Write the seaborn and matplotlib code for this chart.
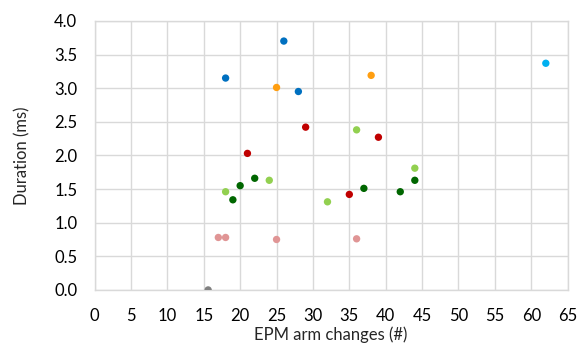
import matplotlib
matplotlib.use("Agg")
import matplotlib.pyplot as plt
import seaborn as sns
import pandas as pd
from matplotlib.ticker import FormatStrFormatter

# data: group, x (EPM arm changes), y (duration ms)
blue_x = [18, 26, 28]
blue_y = [3.15, 3.70, 2.95]
orange_x = [25, 38]
orange_y = [3.01, 3.19]
cyan_x = [62]
cyan_y = [3.37]
darkred_x = [29, 39, 21, 35]
darkred_y = [2.42, 2.27, 2.03, 1.42]
lightgreen_x = [36, 44, 18, 24, 32]
lightgreen_y = [2.38, 1.81, 1.46, 1.63, 1.31]
darkgreen_x = [22, 20, 19, 37, 42, 44]
darkgreen_y = [1.66, 1.55, 1.34, 1.51, 1.46, 1.63]
pink_x = [17, 18, 25, 36]
pink_y = [0.78, 0.78, 0.75, 0.76]
gray_x = [15.6]
gray_y = [0.0]

groups = {
    "blue": (blue_x, blue_y, "#0070C0"),
    "orange": (orange_x, orange_y, "#FF9E10"),
    "cyan": (cyan_x, cyan_y, "#00B0F0"),
    "darkred": (darkred_x, darkred_y, "#C00000"),
    "lightgreen": (lightgreen_x, lightgreen_y, "#92D050"),
    "darkgreen": (darkgreen_x, darkgreen_y, "#006600"),
    "pink": (pink_x, pink_y, "#E09595"),
    "gray": (gray_x, gray_y, "#808080"),
}

rows = []
for g, (xs, ys, c) in groups.items():
    for xv, yv in zip(xs, ys):
        rows.append({"group": g, "x": xv, "y": yv})
df = pd.DataFrame(rows)
palette = {g: v[2] for g, v in groups.items()}

sns.set_style("white")
plt.rcParams['font.family'] = ['Lato', 'DejaVu Sans']

fig = plt.figure(figsize=(5.84, 3.54), dpi=100)
ax = fig.add_axes([0.162, 0.181, 0.81, 0.76])
sns.scatterplot(data=df, x="x", y="y", hue="group", palette=palette,
                s=28, edgecolor="none", legend=False, ax=ax, zorder=3)

ax.set_xlim(0, 65)
ax.set_ylim(0, 4)
ax.set_xticks(range(0, 66, 5))
ax.set_yticks([i * 0.5 for i in range(9)])
ax.yaxis.set_major_formatter(FormatStrFormatter("%.1f"))
ax.grid(True, color="#D9D9D9", linewidth=1)
ax.set_axisbelow(True)
for s in ax.spines.values():
    s.set_color("#D9D9D9")
    s.set_linewidth(1)
ax.tick_params(axis="both", length=0, labelsize=12, colors="#000000")
ax.tick_params(axis="y", pad=12.5)
ax.tick_params(axis="x", pad=13)
ax.set_xlabel("EPM arm changes (#)", fontsize=12, labelpad=2)
ax.set_ylabel("Duration (ms)", fontsize=12, labelpad=17)

fig.savefig("out.png", dpi=100)
